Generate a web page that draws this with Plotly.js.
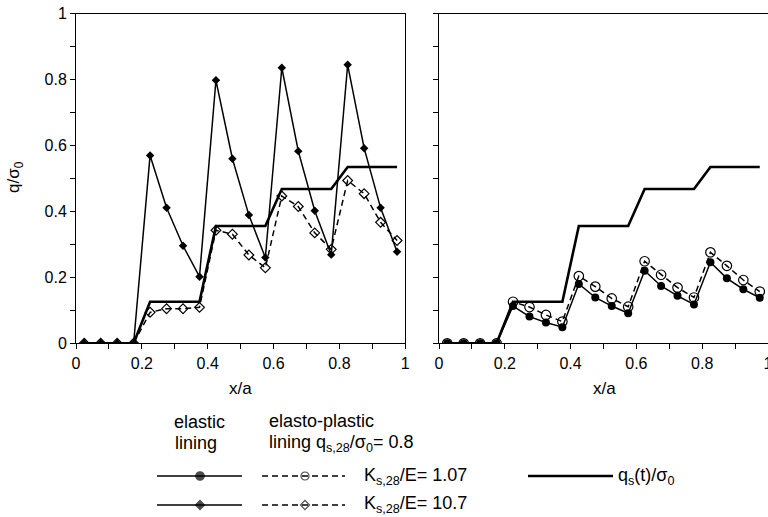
<!DOCTYPE html>
<html>
<head>
<meta charset="utf-8">
<script src="https://cdn.plot.ly/plotly-3.0.1.min.js"></script>
<style>html,body{margin:0;padding:0;background:#fff;}#chart{width:768px;height:517px;}</style>
</head>
<body>
<div id="chart"></div>
<script>
// ---- data ----
const xPos = [0.025,0.075,0.125,0.175,0.225,0.275,0.325,0.375,0.425,0.475,0.525,0.575,0.625,0.675,0.725,0.775,0.825,0.875,0.925,0.975];

// left panel: K_s,28/E = 10.7
const elasticK107 = [0,0,0,0,0.570,0.411,0.296,0.202,0.798,0.560,0.389,0.260,0.836,0.583,0.402,0.269,0.845,0.592,0.411,0.278];
const plasticK107 = [0,0,0,0,0.094,0.105,0.105,0.109,0.343,0.331,0.268,0.229,0.447,0.415,0.335,0.285,0.494,0.454,0.367,0.312];

// right panel: K_s,28/E = 1.07
const elasticK1 = [0,0,0,0,0.113,0.081,0.063,0.049,0.180,0.139,0.113,0.091,0.220,0.174,0.144,0.118,0.246,0.197,0.164,0.138];
const plasticK1 = [0,0,0,0,0.126,0.110,0.086,0.066,0.204,0.172,0.136,0.111,0.249,0.208,0.169,0.139,0.276,0.235,0.192,0.157];

// q_s(t)/sigma_0 step curve
const qsX = [0.025,0.175,0.225,0.375,0.425,0.575,0.625,0.775,0.825,0.975];
const qsY = [0,0,0.126,0.126,0.356,0.356,0.468,0.468,0.535,0.535];

const tickVals = [0,0.2,0.4,0.6,0.8,1];
const tickText = ['0','0.2','0.4','0.6','0.8','1'];
const minorVals = [0.1,0.3,0.5,0.7,0.9];

// ---- layout helpers (pixel positions of the page) ----
const W = 768, H = 517;
const FONT = 'Liberation Sans, Arial, sans-serif';
const dashPat = '6px,4px';

function axisStyle(extra) {
  return Object.assign({
    range: [0, 1], showgrid: false, zeroline: false,
    showline: true, linecolor: '#000', linewidth: 1,
    ticks: 'outside', ticklen: 5, tickwidth: 1, tickcolor: '#000',
    tickvals: tickVals, ticktext: tickText,
    tickfont: {family: FONT, size: 16, color: '#000'},
    minor: {tickvals: minorVals, ticks: 'outside', ticklen: 5, tickwidth: 1, tickcolor: '#000', showgrid: false},
    fixedrange: true
  }, extra);
}

const traces = [
  // left panel
  {x: qsX, y: qsY, xaxis: 'x', yaxis: 'y', mode: 'lines', line: {color: '#000', width: 2.6}, hoverinfo: 'skip'},
  {x: xPos, y: plasticK107, xaxis: 'x', yaxis: 'y', mode: 'lines+markers',
   line: {color: '#000', width: 1.5, dash: dashPat},
   marker: {symbol: 'diamond-open', size: 7.5, color: '#000', line: {width: 1.2, color: '#000'}}},
  {x: xPos, y: elasticK107, xaxis: 'x', yaxis: 'y', mode: 'lines+markers',
   line: {color: '#000', width: 1.5},
   marker: {symbol: 'diamond', size: 6.5, color: '#000'}},
  // right panel
  {x: qsX, y: qsY, xaxis: 'x2', yaxis: 'y2', mode: 'lines', line: {color: '#000', width: 2.6}, hoverinfo: 'skip'},
  {x: xPos, y: plasticK1, xaxis: 'x2', yaxis: 'y2', mode: 'lines+markers',
   line: {color: '#000', width: 1.5, dash: dashPat},
   marker: {symbol: 'circle-open', size: 9.5, color: '#000', line: {width: 1.2, color: '#000'}}},
  {x: xPos, y: elasticK1, xaxis: 'x2', yaxis: 'y2', mode: 'lines+markers',
   line: {color: '#000', width: 1.5},
   marker: {symbol: 'circle', size: 8, color: '#000'}}
];

// legend samples drawn on a hidden overlay axis measured in page pixels
const LEG = {
  row1: 476, row2: 505,
  solid: [157, 200, 242], dashed: [262, 305, 345], qs: [528, 613]
};
function sample(xs, y, dash, symbol, size, width) {
  return {x: xs, y: xs.map(() => y), xaxis: 'x3', yaxis: 'y3', mode: 'lines+markers',
    line: {color: '#000', width: width || 1.5, dash: dash || 'solid'},
    marker: {symbol: symbol, size: xs.map((v, i) => i === 1 ? size : 0), color: '#000', line: {width: 1.2, color: '#000'}},
    hoverinfo: 'skip'};
}
traces.push(sample(LEG.solid, LEG.row1, 'solid', 'circle', 8.5));
traces.push(sample(LEG.dashed, LEG.row1, dashPat, 'circle-open', 8));
traces.push(sample(LEG.solid, LEG.row2, 'solid', 'diamond', 7));
traces.push(sample(LEG.dashed, LEG.row2, dashPat, 'diamond-open', 7));
traces.push({x: LEG.qs, y: [LEG.row1, LEG.row1], xaxis: 'x3', yaxis: 'y3', mode: 'lines',
  line: {color: '#000', width: 2.6}, hoverinfo: 'skip'});

const yDom = [(H - 343.3) / H, (H - 13.7) / H];
function ann(text, px, py, opts) {
  return Object.assign({text: text, xref: 'paper', yref: 'paper', x: px / W, y: 1 - py / H,
    xanchor: 'left', yanchor: 'middle', showarrow: false,
    font: {family: FONT, size: 18, color: '#000'}}, opts || {});
}

const layout = {
  width: W, height: H,
  margin: {l: 0, r: 0, t: 0, b: 0},
  paper_bgcolor: '#fff', plot_bgcolor: 'rgba(0,0,0,0)',
  showlegend: false,
  font: {family: FONT, color: '#000'},
  xaxis: axisStyle({domain: [76 / W, 405.3 / W], anchor: 'y', mirror: true}),
  yaxis: axisStyle({domain: yDom, anchor: 'x', mirror: true}),
  xaxis2: axisStyle({domain: [439 / W, 1], anchor: 'y2', mirror: true, ticklabeloverflow: 'allow'}),
  yaxis2: axisStyle({domain: yDom, anchor: 'x2', showticklabels: false}),
  xaxis3: {domain: [0, 1], range: [0, W], visible: false, fixedrange: true, anchor: 'y3'},
  yaxis3: {domain: [0, 1], range: [H, 0], visible: false, fixedrange: true, anchor: 'x3'},
  annotations: [
    ann('q/σ<sub>0</sub>', 15, 177, {textangle: -90, xanchor: 'center', font: {family: FONT, size: 17, color: '#000'}}),
    ann('x/a', 240.5, 388, {xanchor: 'center', font: {family: FONT, size: 17, color: '#000'}}),
    ann('x/a', 604, 388, {xanchor: 'center', font: {family: FONT, size: 17, color: '#000'}}),
    ann('elastic', 172, 422),
    ann('lining', 173, 443),
    ann('elasto-plastic', 267, 421),
    ann('lining q<sub>s,28</sub>/σ<sub>0</sub>= 0.8', 267, 443),
    ann('K<sub>s,28</sub>/E= 1.07', 362, 476),
    ann('K<sub>s,28</sub>/E= 10.7', 362, 504),
    ann('q<sub>s</sub>(t)/σ<sub>0</sub>', 616, 476)
  ]
};

Plotly.newPlot('chart', traces, layout, {staticPlot: true, displayModeBar: false});
</script>
</body>
</html>
